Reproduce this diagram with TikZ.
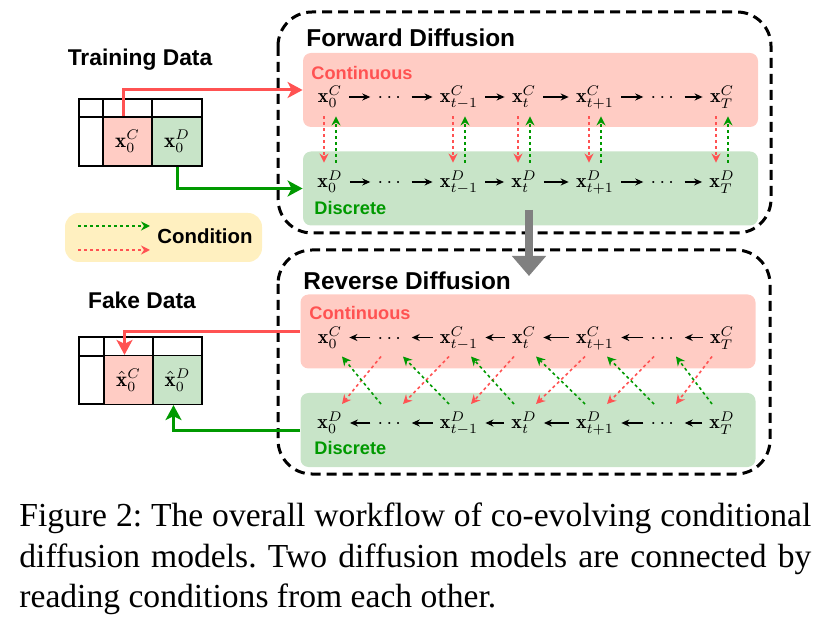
\documentclass[tikz,border=0pt]{standalone}
\usepackage{amsmath, amssymb}
\usepackage{fontspec}
\usepackage{tikz}
\usetikzlibrary{arrows.meta, positioning, calc}

\newfontfamily\lblfont{Liberation Sans}
\newfontfamily\capfont{Liberation Serif}

\definecolor{pinkbg}{RGB}{255,204,196}
\definecolor{greenbg}{RGB}{200,228,200}
\definecolor{legendbg}{RGB}{255,240,192}
\definecolor{redline}{RGB}{255,82,82}
\definecolor{greenline}{RGB}{0,153,0}
\definecolor{shaft}{RGB}{128,128,128}

\frenchspacing

\begin{document}
\begin{tikzpicture}[x=0.5pt, y=-0.5pt,
    datalbl/.style={font=\lblfont\bfseries\fontsize{11.4}{13}\selectfont, inner sep=0pt},
    title/.style={font=\lblfont\bfseries\fontsize{12.2}{14}\selectfont, anchor=west, inner sep=0pt},
    kind/.style={font=\lblfont\bfseries\fontsize{9.1}{11}\selectfont, anchor=west, inner sep=0pt},
    phase/.style={draw, line width=1.5pt, dash pattern=on 5pt off 3pt, rounded corners=17pt},
    band/.style={rounded corners=4pt, inner sep=0pt, minimum width=227.5pt, minimum height=37pt},
    var/.style={font=\fontsize{10}{12}\selectfont, text height=8pt, text depth=2pt, inner xsep=3.5pt, inner ysep=4.5pt},
    cell/.style={draw, line width=0.6pt, inner sep=0pt, minimum width=24.5pt, minimum height=24.5pt, font=\fontsize{10.5}{12}\selectfont},
    chain/.style={-{Stealth[length=4pt,width=3.5pt]}, line width=0.7pt},
    cond/.style={-{Stealth[length=4.5pt,width=4.5pt]}, line width=0.8pt, dash pattern=on 1.5pt off 1.5pt},
    feed/.style={-{Stealth[length=7.5pt,width=8pt,inset=2pt]}, line width=1.5pt},
    capline/.style={font=\capfont\fontsize{16.8}{20}\selectfont, anchor=base west, inner sep=0pt}]
    \useasboundingbox (0,0) rectangle (840,630);

    %--- dashed phase frames and coloured bands ---
    \draw[phase] (278,12) rectangle (771,233);
    \draw[phase] (278,250) rectangle (770,474);
    \node[band, fill=pinkbg]  (fwdC) at (530.5,90)  {};
    \node[band, fill=greenbg] (fwdD) at (530.5,188.5) {};
    \node[band, fill=pinkbg]  (revC) at (528,331.5) {};
    \node[band, fill=greenbg] (revD) at (528,430)   {};

    \node[title] (fwdT) at (306,38)  {Forward Diffusion};
    \node[title] (revT) at (303,281) {Reverse Diffusion};
    \node[kind, text=redline]   (fwdCl) at (311,73)  {Continuous};
    \node[kind, text=greenline] (fwdDl) at (314,208) {Discrete};
    \node[kind, text=redline]   (revCl) at (309,313) {Continuous};
    \node[kind, text=greenline] (revDl) at (314,448) {Discrete};

    %--- chains of variables ---
    \foreach \i/\px/\sub in {0/330/0, 2/459/{t-1}, 3/524/t, 4/595/{t+1}, 6/722/T} {
        \node[var] (fC\i) at (\px,97)    {$\mathbf{x}_{\sub}^{C}$};
        \node[var] (fD\i) at (\px,182)   {$\mathbf{x}_{\sub}^{D}$};
        \node[var] (rC\i) at (\px,337.5) {$\mathbf{x}_{\sub}^{C}$};
        \node[var] (rD\i) at (\px,423)   {$\mathbf{x}_{\sub}^{D}$};
    }
    \foreach \i/\px in {1/391, 5/664} {
        \node[var] (fC\i) at (\px,97)    {$\cdots$};
        \node[var] (fD\i) at (\px,182)   {$\cdots$};
        \node[var] (rC\i) at (\px,337.5) {$\cdots$};
        \node[var] (rD\i) at (\px,423)   {$\cdots$};
    }
    \foreach \i [evaluate=\i as \j using int(\i+1)] in {0,...,5} {
        \draw[chain] (fC\i) -- (fC\j);
        \draw[chain] (fD\i) -- (fD\j);
        \draw[chain] (rC\j) -- (rC\i);
        \draw[chain] (rD\j) -- (rD\i);
    }

    %--- conditions: forward reads straight down/up
    \foreach \i in {0,2,3,4,6} {
        \draw[cond, redline]   ([xshift=-3pt]fC\i.south) -- ([xshift=-3pt]fD\i.north);
        \draw[cond, greenline] ([xshift=3pt]fD\i.north) -- ([xshift=3pt]fC\i.south);
    }
    %--- conditions: reverse reads across one step
    \foreach \i [evaluate=\i as \j using int(\i-1)] in {1,...,6} {
        \draw[cond, redline]   ($(rC\i)+(-10,19)$) -- ($(rD\j)+(12,-19)$);
        \draw[cond, greenline] ($(rD\i)+(-10,-19)$) -- ($(rC\j)+(12,19)$);
    }

    % forward -> reverse
    \coordinate (sTop) at (529,210);
    \coordinate (sTip) at (529,276);
    \draw[shaft, line width=4pt, -{Triangle[length=10pt,width=16.5pt]}] (sTop) -- (sTip);

    %--- training data table ---
    \node[datalbl] (train) at (140,60) {Training Data};
    \draw[line width=0.6pt] (79,99) rectangle (202,166);
    \draw[line width=0.6pt] (79,117) -- (202,117) (103,99) -- (103,166) (152,99) -- (152,117);
    \node[cell, fill=pinkbg]  (tc) at (127.5,141.5) {$\mathbf{x}_0^C$};
    \node[cell, fill=greenbg] (td) at (177,141.5)   {$\mathbf{x}_0^D$};

    %--- fake data table ---
    \node[datalbl] (fake) at (142,300) {Fake Data};
    \draw[line width=0.6pt] (79,337) rectangle (202,404);
    \draw[line width=0.6pt] (79,356) -- (202,356) (104,337) -- (104,404) (153,337) -- (153,356);
    \node[cell, fill=pinkbg]  (fc) at (128.5,380) {$\hat{\mathbf{x}}_0^C$};
    \node[cell, fill=greenbg] (fd) at (177.5,380) {$\hat{\mathbf{x}}_0^D$};

    % data in and out
    \draw[feed, redline]   ([xshift=-2pt]tc.north) |- (fwdC.west);
    \draw[feed, greenline] (td.south) |- (fwdD.west);
    \draw[feed, redline]   (revC.west) -| ([xshift=-2pt]fc.north);
    \draw[feed, greenline] (revD.west) -| ([xshift=-2pt]fd.south);

    %--- legend ---
    \node[fill=legendbg, rounded corners=7pt, minimum width=98.5pt, minimum height=24.5pt] (legend) at (163.5,237.5) {};
    \coordinate (lgA) at (78,226);  \coordinate (lgB) at (150,226);
    \coordinate (lrA) at (78,250);  \coordinate (lrB) at (150,250);
    \draw[cond, greenline] (lgA) -- (lgB);
    \draw[cond, redline]   (lrA) -- (lrB);
    \node[font=\lblfont\bfseries\fontsize{10.2}{12}\selectfont, anchor=west, inner sep=0pt] (condT) at (157,236) {Condition};

    %--- caption ---
    \node[capline] (cap1) at (19,526) {\makebox[396pt][s]{Figure 2: The overall workflow of co-evolving conditional}};
    \node[capline] (cap2) at (19,567) {\makebox[396pt][s]{diffusion models. Two diffusion models are connected by}};
    \node[capline] (cap3) at (19,607) {reading conditions from each other.};
\end{tikzpicture}
\end{document}
